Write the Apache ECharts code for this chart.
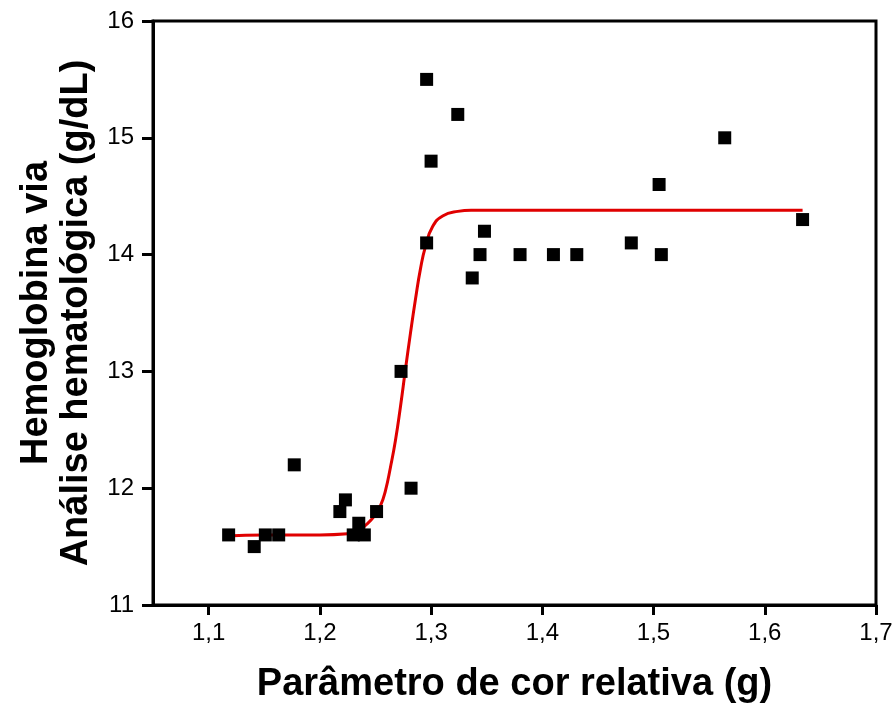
<!DOCTYPE html>
<html>
<head>
<meta charset="utf-8">
<script src="https://cdn.jsdelivr.net/npm/echarts@6/dist/echarts.min.js"></script>
<style>html,body{margin:0;padding:0;background:#fff}#c{width:893px;height:704px}</style>
</head>
<body>
<div id="c"></div>
<script>
// Scatter data
const pointsX = [1.118, 1.141, 1.151, 1.163, 1.177, 1.218, 1.223, 1.230, 1.235, 1.240, 1.251, 1.273, 1.282, 1.296, 1.296, 1.300, 1.324, 1.337, 1.344, 1.348, 1.380, 1.410, 1.431, 1.480, 1.505, 1.507, 1.564, 1.634];
const pointsY = [11.6, 11.5, 11.6, 11.6, 12.2, 11.8, 11.9, 11.6, 11.7, 11.6, 11.8, 13.0, 12.0, 15.5, 14.1, 14.8, 15.2, 13.8, 14.0, 14.2, 14.0, 14.0, 14.0, 14.1, 14.6, 14.0, 15.0, 14.3];
// Fitted curve
const curveX = [1.116, 1.150, 1.200, 1.225, 1.235, 1.242, 1.248, 1.2545, 1.259, 1.2635, 1.268, 1.2725, 1.277, 1.2815, 1.286, 1.2905, 1.295, 1.3014, 1.3104, 1.324, 1.336, 1.400, 1.500, 1.634];
const curveY = [11.59, 11.60, 11.60, 11.61, 11.64, 11.69, 11.75, 11.85, 11.98, 12.18, 12.41, 12.70, 13.02, 13.33, 13.62, 13.88, 14.07, 14.24, 14.33, 14.37, 14.38, 14.38, 14.38, 14.38];
const xTicks = [1.1, 1.2, 1.3, 1.4, 1.5, 1.6, 1.7];
const yTicks = [11, 12, 13, 14, 15, 16];

const chart = echarts.init(document.getElementById('c'));
const font = 'Liberation Sans, Arial, sans-serif';
chart.setOption({
  animation: false,
  grid: { left: 153, right: 17, top: 21, bottom: 99, containLabel: false, outerBoundsMode: 'none',
    show: true, borderColor: '#000', borderWidth: 3, backgroundColor: '#fff' },
  xAxis: {
    type: 'value', min: 1.05, max: 1.7,
    name: 'Parâmetro de cor relativa (g)', nameLocation: 'middle', nameGap: 61,
    nameTextStyle: { fontFamily: font, fontWeight: 'bold', fontSize: 38, color: '#000' },
    axisLine: { show: true, lineStyle: { color: '#000', width: 3 } },
    axisTick: { show: true, length: 10, customValues: xTicks, lineStyle: { color: '#000', width: 3 } },
    axisLabel: { fontFamily: font, fontSize: 24, color: '#000', margin: 16, customValues: xTicks,
      formatter: function (v) { return v.toFixed(1).replace('.', ','); } },
    splitLine: { show: false }
  },
  yAxis: {
    type: 'value', min: 11, max: 16, interval: 1,
    name: 'Hemoglobina via\nAnálise hematológica (g/dL)', nameLocation: 'middle', nameGap: 55, nameRotate: 90,
    nameTextStyle: { fontFamily: font, fontWeight: 'bold', fontSize: 38, color: '#000', lineHeight: 40 },
    axisLine: { show: true, lineStyle: { color: '#000', width: 3 } },
    axisTick: { show: true, length: 11, customValues: yTicks, lineStyle: { color: '#000', width: 3 } },
    axisLabel: { fontFamily: font, fontSize: 24, color: '#000', margin: 19, customValues: yTicks,
      formatter: function (v) { return String(v); } },
    splitLine: { show: false }
  },
  series: [
    {
      type: 'line', data: curveX.map((x, i) => [x, curveY[i]]), smooth: 0.5, showSymbol: false,
      lineStyle: { color: '#e00000', width: 3 }, z: 2
    },
    {
      type: 'scatter', data: pointsX.map((x, i) => [x, pointsY[i]]), symbol: 'rect', symbolSize: 13,
      itemStyle: { color: '#000', opacity: 1 }, z: 3
    }
  ]
});
</script>
</body>
</html>
